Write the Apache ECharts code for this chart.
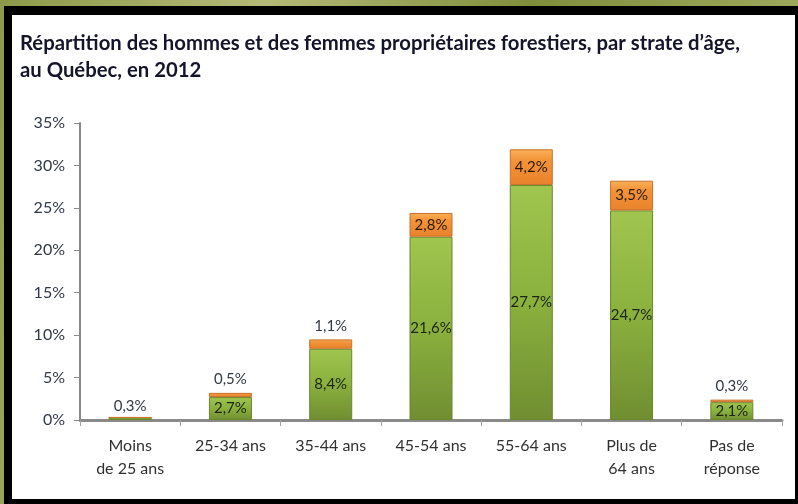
<!DOCTYPE html>
<html>
<head>
<meta charset="utf-8">
<script src="https://cdn.jsdelivr.net/npm/echarts@6/dist/echarts.min.js"></script>
<style>
html,body{margin:0;padding:0;width:798px;height:504px;overflow:hidden;}
body{background:linear-gradient(100deg,#8d9a4a 0%,#b4b978 30%,#7f8e3c 60%,#a8b067 100%);}
#frame{position:absolute;left:4px;top:6px;width:783px;height:484px;background:#fff;border-style:solid;border-color:#000;border-width:9px 3px 5px 8px;}
#chart{position:absolute;left:0;top:0;width:798px;height:504px;}
</style>
</head>
<body>
<div id="frame"></div>
<div id="chart"></div>
<script>
const titleText = "Répartition des hommes et des femmes propriétaires forestiers, par strate d’âge,\nau Québec, en 2012";
const categories = ["Moins\nde 25 ans", "25-34 ans", "35-44 ans", "45-54 ans", "55-64 ans", "Plus de\n64 ans", "Pas de\nréponse"];
const hommes = [0.3, 2.7, 8.4, 21.6, 27.7, 24.7, 2.1];
const femmes = [0, 0.5, 1.1, 2.8, 4.2, 3.5, 0.3];
const yTicks = [0, 5, 10, 15, 20, 25, 30, 35];

const fmt = v => v.toFixed(1).replace('.', ',') + '%';
const font = 'Lato, "Open Sans", sans-serif';

const greenColor = new echarts.graphic.LinearGradient(0, 0, 0, 1, [
  {offset: 0, color: '#a0c64f'}, {offset: 0.5, color: '#8ab03e'}, {offset: 1, color: '#708e31'}
]);
const orangeColor = new echarts.graphic.LinearGradient(0, 0, 0, 1, [
  {offset: 0, color: '#fbb25a'}, {offset: 0.3, color: '#f39439'}, {offset: 1, color: '#e9822c'}
]);

const greenData = hommes.map((v, i) => ({
  value: v,
  label: {position: femmes[i] === 0 ? 'top' : 'inside', color: femmes[i] === 0 ? '#333a44' : '#1c2610'}
}));
const orangeData = femmes.map(v => ({
  value: v,
  label: {show: v > 0, position: v < 2 ? 'top' : 'inside', color: v < 2 ? '#333a44' : '#2a1a08'}
}));

const chart = echarts.init(document.getElementById('chart'), null, {renderer: 'canvas'});
chart.setOption({
  backgroundColor: 'transparent',
  animation: false,
  title: {
    text: titleText, left: 15, top: 25,
    textStyle: {fontFamily: font, fontWeight: 'bold', fontSize: 20.3, color: '#14142a', lineHeight: 27}
  },
  grid: {left: 80, right: 16, top: 123, bottom: 84},
  xAxis: {
    type: 'category', data: categories,
    axisLine: {lineStyle: {color: '#8a8a8a', width: 3}},
    axisTick: {show: true, length: 6, lineStyle: {color: '#a0a0a0', width: 1}},
    axisLabel: {fontFamily: font, fontSize: 16, color: '#303030', margin: 14, lineHeight: 23, interval: 0}
  },
  yAxis: {
    type: 'value', min: yTicks[0], max: yTicks[yTicks.length - 1], interval: 5,
    axisLine: {show: true, lineStyle: {color: '#8a8a8a', width: 2}},
    axisTick: {show: true, length: 6, lineStyle: {color: '#8a8a8a'}},
    splitLine: {show: false},
    axisLabel: {fontFamily: font, fontSize: 16, color: '#303848', margin: 15, formatter: v => v + '%'}
  },
  series: [
    {
      name: 'Hommes', type: 'bar', stack: 'total', barWidth: 43, data: greenData,
      itemStyle: {color: greenColor, borderColor: '#6a872c', borderWidth: 1},
      label: {show: true, fontFamily: font, fontSize: 15, formatter: p => fmt(p.value), distance: 4}
    },
    {
      name: 'Femmes', type: 'bar', stack: 'total', barWidth: 43, data: orangeData,
      itemStyle: {color: orangeColor, borderColor: '#c9702a', borderWidth: 1},
      label: {show: true, fontFamily: font, fontSize: 15, formatter: p => fmt(p.value), distance: 6}
    }
  ]
});
</script>
</body>
</html>
